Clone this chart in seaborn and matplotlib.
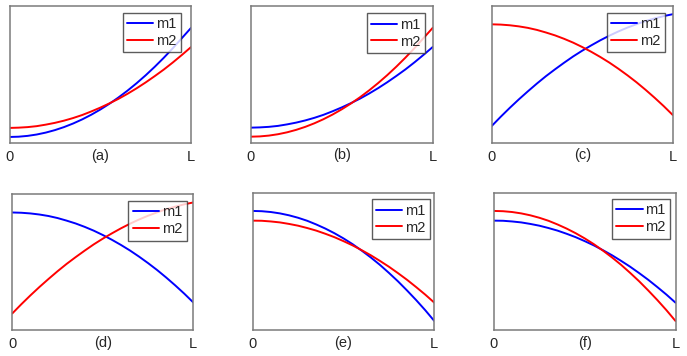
import pandas as pd
import matplotlib
matplotlib.use('Agg')
import matplotlib.pyplot as plt
import seaborn as sns

# posições ao longo da viga (0 .. L), normalizadas
x = [0.0, 0.05, 0.1, 0.15, 0.2, 0.25, 0.3, 0.35, 0.4, 0.45, 0.5,
     0.55, 0.6, 0.65, 0.7, 0.75, 0.8, 0.85, 0.9, 0.95, 1.0]

# curvas (escala vertical 0..1)
sobe_rapido = [0.044, 0.046, 0.052, 0.062, 0.076, 0.094, 0.116, 0.142, 0.172, 0.206, 0.244,
               0.286, 0.332, 0.382, 0.436, 0.494, 0.556, 0.622, 0.692, 0.766, 0.84]
sobe_lento = [0.11, 0.112, 0.116, 0.123, 0.134, 0.147, 0.163, 0.182, 0.204, 0.23, 0.258,
              0.289, 0.322, 0.359, 0.399, 0.442, 0.488, 0.536, 0.588, 0.643, 0.70]
concava = [0.122, 0.19, 0.255, 0.317, 0.376, 0.433, 0.487, 0.537, 0.585, 0.631, 0.673,
           0.712, 0.749, 0.783, 0.814, 0.842, 0.867, 0.89, 0.909, 0.926, 0.94]
desce = [0.866, 0.864, 0.859, 0.851, 0.84, 0.825, 0.806, 0.785, 0.76, 0.732, 0.70,
         0.665, 0.627, 0.586, 0.541, 0.493, 0.442, 0.387, 0.329, 0.268, 0.203]
desce_alto = [0.871, 0.869, 0.863, 0.853, 0.839, 0.821, 0.799, 0.772, 0.742, 0.708, 0.67,
              0.628, 0.581, 0.531, 0.477, 0.418, 0.356, 0.289, 0.219, 0.145, 0.066]
desce_baixo = [0.80, 0.799, 0.794, 0.787, 0.776, 0.763, 0.746, 0.727, 0.704, 0.679, 0.65,
               0.619, 0.584, 0.547, 0.506, 0.463, 0.416, 0.367, 0.314, 0.259, 0.20]

paineis = ['(a)', '(b)', '(c)', '(d)', '(e)', '(f)']
m1 = [sobe_rapido, sobe_lento, concava, desce, desce_alto, desce_baixo]
m2 = [sobe_lento, sobe_rapido, desce, concava, desce_baixo, desce_alto]

# caixas dos eixos em pixels: esquerda, direita, topo, base
caixas = [
    (9.5, 191, 6, 143),
    (250.7, 432.7, 6, 142.7),
    (491.7, 672.7, 6, 142.7),
    (12.3, 193.3, 194.3, 330),
    (252.7, 434.3, 193.3, 330),
    (494, 675.5, 193.3, 330),
]
# distância da legenda ao canto superior direito (px)
leg_dx = [10, 7.7, 7.7, 6.7, 4.3, 5.3]
leg_dy = [6.7, 7.3, 6.7, 6.7, 6, 5.7]

W, H = 687, 356
sns.set_style('white')
plt.rcParams['font.family'] = ['Liberation Sans', 'DejaVu Sans']

fig = plt.figure(figsize=(W / 100, H / 100), dpi=100)

for i, nome in enumerate(paineis):
    l, r, t, b = caixas[i]
    ax = fig.add_axes([l / W, 1 - b / H, (r - l) / W, (b - t) / H])
    df = pd.DataFrame({'x': x * 2,
                       'y': m1[i] + m2[i],
                       'serie': ['m1'] * len(x) + ['m2'] * len(x)})
    sns.lineplot(data=df, x='x', y='y', hue='serie', ax=ax,
                 palette={'m1': '#0000ff', 'm2': '#ff0000'}, linewidth=1.4)
    ax.set_xlim(0, 1)
    ax.set_ylim(0, 1)
    ax.set_xticks([0, 1])
    ax.set_xticklabels(['0', 'L'], fontsize=10.5)
    ax.set_yticks([])
    ax.tick_params(axis='x', length=0, pad=5)
    ax.set_xlabel(nome, fontsize=10.5, labelpad=-11)
    ax.set_ylabel('')
    for s in ax.spines.values():
        s.set_color('#7a7a7a')
        s.set_linewidth(1.1)
    bx = 1 - leg_dx[i] / (r - l)
    by = 1 - leg_dy[i] / (b - t)
    leg = ax.legend(loc='upper right', bbox_to_anchor=(bx, by), fontsize=10.5,
                    frameon=True, fancybox=False, borderaxespad=0,
                    handlelength=1.8, handletextpad=0.2, borderpad=0.3,
                    labelspacing=0.2)
    leg.get_frame().set_edgecolor('#333333')
    leg.get_frame().set_linewidth(1.0)
    for ln in leg.get_lines():
        ln.set_linewidth(1.4)

fig.savefig('out.png', dpi=100)
